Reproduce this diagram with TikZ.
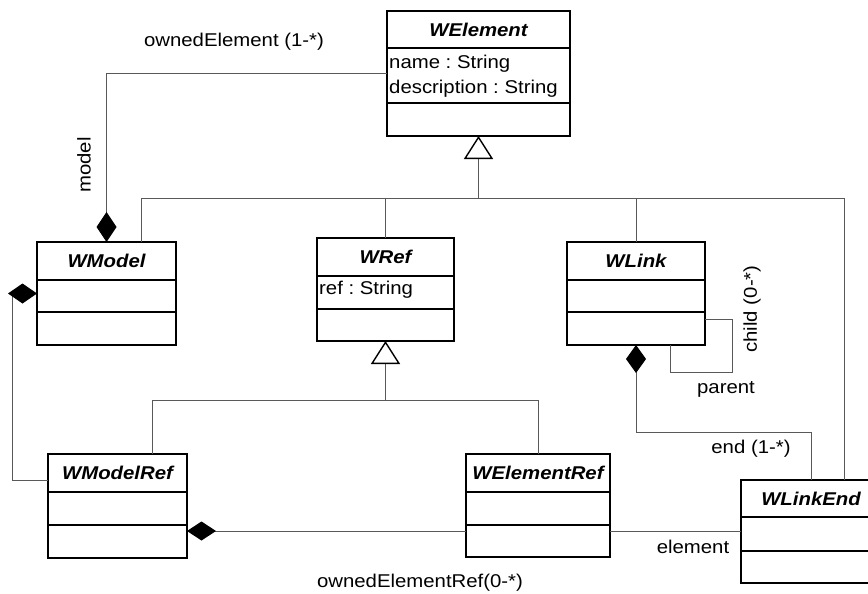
\documentclass[tikz,border=0pt]{standalone}
\usepackage{fontspec}
\setmainfont{Liberation Sans}[FakeStretch=1.1]
\usetikzlibrary{arrows.meta}
\frenchspacing
\tikzset{
 classbox/.style={draw=black, line width=1.5pt, fill=white, rectangle, inner sep=0pt, outer sep=0pt},
 divider/.style={draw=black, line width=1.5pt},
 ctitle/.style={font=\fontsize{18.5}{22}\selectfont\bfseries\itshape, inner sep=0pt},
 attr/.style={font=\fontsize{18.5}{22}\selectfont\frenchspacing, inner sep=0pt, anchor=west},
 lbl/.style={font=\fontsize{18.5}{22}\selectfont, inner sep=0pt},
 conn/.style={draw=black!65, line width=1pt},
 gen/.style={conn, -{Triangle[length=23pt,width=29pt,color=black,fill=white,line width=1.4pt]}},
 compend/.style={conn, -{Diamond[length=30pt,width=20pt,color=black,fill=black]}},
}
\newcommand\umlclass[8]{%
 \node[classbox, minimum width={(#4)-(#2)}, minimum height={(#5)-(#3)}] (#1) at ({((#2)+(#4))/2},{((#3)+(#5))/2}) {};
 \draw[divider] (#2,#6) -- (#4,#6);
 \draw[divider] (#2,#7) -- (#4,#7);
 \node[ctitle] (#1-t) at ({((#2)+(#4))/2},{((#3)+(#6))/2}) {#8};
}
\begin{document}
\begin{tikzpicture}[x=1pt,y=-1pt]
\clip (0,0) rectangle (868,594);
\fill[white] (0,0) rectangle (868,594);
% classes
\umlclass{welement}{387}{11}{570}{136}{48}{103}{WElement}
\umlclass{wmodel}{37}{242}{176}{345}{280}{312}{WModel}
\umlclass{wref}{317}{238}{454}{341}{276}{309}{WRef}
\umlclass{wlink}{567}{242}{705}{345}{280}{312}{WLink}
\umlclass{wmodelref}{48}{454}{187}{558}{492}{525}{WModelRef}
\umlclass{welementref}{466}{454}{610}{557}{492}{525}{WElementRef}
\umlclass{wlinkend}{741}{480}{881}{583}{517}{551}{WLinkEnd}
% attributes
\node[attr] (a1) at (389,64) {name : String};
\node[attr] (a2) at (389,89) {description : String};
\node[attr] (a3) at (319,290) {ref : String};
% generalization WElement
\coordinate (g1) at (478.5,198);
\draw[conn] ([xshift=34.5pt]wmodel.north) |- (g1);
\draw[conn] (wref.north) |- (g1);
\draw[conn] (wlink.north) |- (g1);
\draw[conn] ([xshift=33pt]wlinkend.north) |- (g1);
\draw[gen] (g1) -- (welement.south);
% generalization WRef
\coordinate (g2) at (385.5,400);
\draw[conn] ([xshift=34.5pt]wmodelref.north) |- (g2);
\draw[conn] (welementref.north) |- (g2);
\draw[gen] (g2) -- (wref.south);
% ownedElement
\draw[compend] (welement.west) -| (wmodel.north);
% WModel - WModelRef
\coordinate (mm) at (12,480);
\draw[conn, {Diamond[length=29pt,width=20pt,color=black,fill=black]}-] (wmodel.west) -| (mm) -- ([yshift=26pt]wmodelref.west);
% ownedElementRef
\coordinate (oer) at ([yshift=-25pt]wmodelref.east);
\draw[conn, {Diamond[length=29pt,width=19pt,color=black,fill=black]}-] (oer) -- (oer -| welementref.west);
% element
\draw[conn] (oer -| welementref.east) -- (oer -| wlinkend.west);
% self loop
\coordinate (sl) at (732,372);
\draw[conn] ([yshift=-25.5pt]wlink.east) -| (sl) -| ([xshift=34pt]wlink.south);
% WLink - WLinkEnd
\coordinate (le) at (811,432);
\draw[conn, {Diamond[length=28pt,width=20pt,color=black,fill=black]}-] (wlink.south) |- (le) -- (wlinkend.north);
% labels
\node[lbl] (lOE) at (234,42) {ownedElement (1-*)};
\node[lbl, rotate=90] (lmodel) at (84,165) {model};
\node[lbl, rotate=90] (lchild) at (752,309) {child (0-*)};
\node[lbl] (lparent) at (726,389) {parent};
\node[lbl] (lend) at (751,449) {end (1-*)};
\node[lbl] (lelem) at (693,547) {element};
\node[lbl] (loer) at (420,583) {ownedElementRef(0-*)};
\end{tikzpicture}
\end{document}
